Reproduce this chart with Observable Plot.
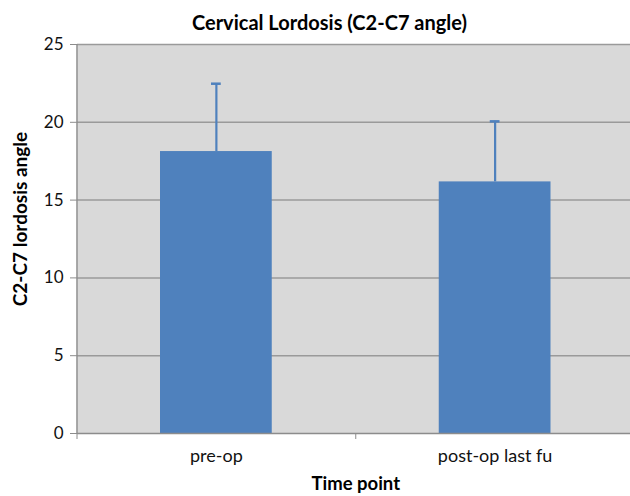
<!DOCTYPE html>
<html>
<head>
<meta charset="utf-8">
<script src="https://cdn.jsdelivr.net/npm/d3@7"></script>
<script src="https://cdn.jsdelivr.net/npm/@observablehq/plot@0.6"></script>
<style>
  html, body { margin: 0; padding: 0; background: #ffffff; }
  #chart svg { display: block; }
</style>
</head>
<body>
<div id="chart"></div>
<script>
// ---- Data ----
const categories = ["pre-op", "post-op last fu"];
const means = [18.12, 16.17];
const sdUpper = [4.36, 3.89];
const yTicks = [0, 5, 10, 15, 20, 25];
const titleText = "Cervical Lordosis (C2-C7 angle)";
const xTitle = "Time point";
const yTitle = "C2-C7 lordosis angle";

const data = categories.map((c, i) => ({
  category: c,
  i0: i,
  i1: i + 1,
  mid: i + 0.5,
  mean: means[i],
  top: means[i] + sdUpper[i]
}));
const boundaries = d3.range(categories.length + 1);

const barColor = "#4f81bd";
const axisGray = "#8c8c8c";
const font = "Lato, 'Open Sans', sans-serif";

const chart = Plot.plot({
  width: 630,
  height: 496,
  marginLeft: 77,
  marginRight: 0,
  marginTop: 44,
  marginBottom: 63,
  style: { fontFamily: font, background: "#ffffff", overflow: "visible" },
  x: { type: "linear", domain: [0, categories.length], range: [76.5, 634], axis: null },
  y: { domain: [0, 25], axis: null },
  marks: [
    Plot.frame({ fill: "#d9d9d9", stroke: null }),
    Plot.ruleY(yTicks.filter(t => t > 0), { stroke: "#9a9a9a", strokeWidth: 1.5 }),
    Plot.rectY(data, {
      x1: "i0", x2: "i1", y1: 0, y2: "mean",
      fill: barColor, insetLeft: 83.5, insetRight: 83.5
    }),
    Plot.ruleX(data, { x: "mid", y1: "mean", y2: "top", stroke: barColor, strokeWidth: 2.2 }),
    Plot.ruleY(data, {
      y: "top", x1: "i0", x2: "i1",
      insetLeft: 134.5, insetRight: 134.5, stroke: barColor, strokeWidth: 2.5
    }),
    // axis lines
    Plot.ruleY([0], { stroke: axisGray, strokeWidth: 1.5 }),
    Plot.ruleX([0], { stroke: axisGray, strokeWidth: 1.5 }),
    Plot.axisY(yTicks, {
      tickSize: 7, tickPadding: 7, fontSize: 17,
      stroke: axisGray, fill: "#111", label: null
    }),
    Plot.axisX(boundaries, {
      tickSize: 6, tickFormat: () => "", stroke: axisGray, label: null
    }),
    Plot.text(data, {
      x: "mid", text: "category", frameAnchor: "bottom", lineAnchor: "middle", dy: 23,
      fontSize: 18, fill: "#111"
    }),
    Plot.text([xTitle], {
      x: categories.length / 2, frameAnchor: "bottom", lineAnchor: "middle", dy: 51,
      fontSize: 18.5, fontWeight: "bold", fill: "#000"
    }),
    Plot.text([yTitle], {
      frameAnchor: "left", textAnchor: "middle", lineAnchor: "middle",
      dx: -57, dy: -20, rotate: -90,
      fontSize: 19, fontWeight: "bold", fill: "#000"
    }),
    Plot.text([titleText], {
      frameAnchor: "top", textAnchor: "middle", lineAnchor: "middle", dx: -24.5, dy: -21,
      fontSize: 20, fontWeight: "bold", fill: "#000"
    })
  ]
});

document.getElementById("chart").appendChild(chart);
</script>
</body>
</html>
